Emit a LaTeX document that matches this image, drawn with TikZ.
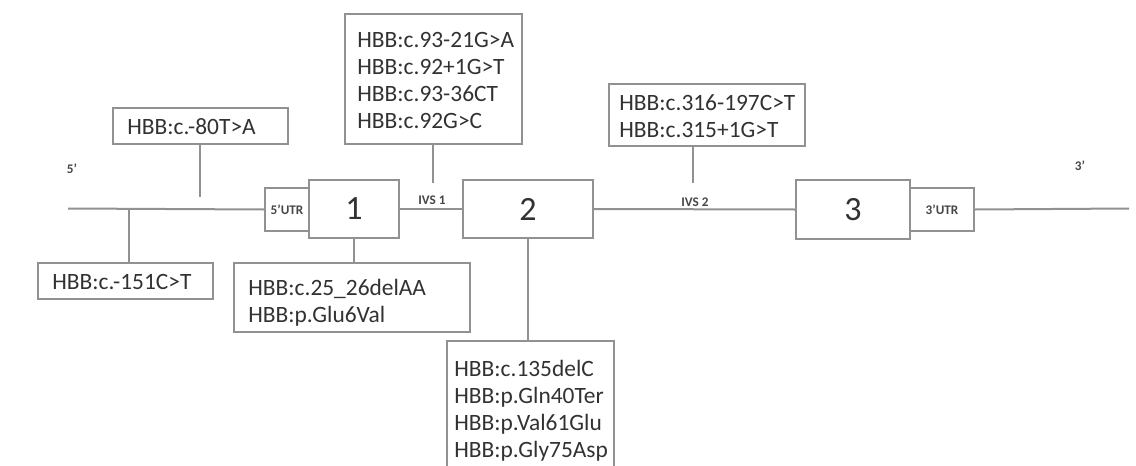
\documentclass[tikz,border=0pt]{standalone}
\usepackage{fontspec}
\setmainfont{Carlito}
\definecolor{linegray}{RGB}{145,145,145}
\definecolor{textgray}{RGB}{50,50,50}
\definecolor{labgray}{RGB}{70,70,70}
\begin{document}
\begin{tikzpicture}[x=0.5pt,y=-0.5pt,
  conn/.style={draw=linegray, line width=1pt},
  mbox/.style={draw=linegray, line width=1pt, inner sep=0pt, anchor=north west},
  mtext/.style={anchor=west, align=left, inner sep=0pt, text=textgray,
    font=\fontsize{11.7}{13.5}\selectfont},
  exnum/.style={inner sep=0pt, text=textgray, font=\fontsize{17}{17}\selectfont},
  smalllab/.style={inner sep=0pt, text=labgray, font=\fontsize{6.6}{7}\selectfont\bfseries},
]
\clip (0,0) rectangle (1136,466);
\fill[white] (0,0) rectangle (1136,466);

% gene structure
\node[mbox, minimum width=22pt, minimum height=21.5pt] (utr5) at (264,187) {};
\node[smalllab] (utr5t) at (utr5.center) {5’UTR};
\node[mbox, minimum width=45pt, minimum height=29pt] (ex1) at (308,179) {};
\node[exnum] (ex1t) at (ex1.center) {1};
\node[mbox, minimum width=65pt, minimum height=29pt] (ex2) at (462,179) {};
\node[exnum] (ex2t) at (ex2.center) {2};
\node[mbox, minimum width=57pt, minimum height=29.5pt] (ex3) at (795,179) {};
\node[exnum] (ex3t) at (ex3.center) {3};
\node[mbox, minimum width=32pt, minimum height=21.5pt] (utr3) at (909,187) {};
\node[smalllab] (utr3t) at (utr3.center) {3’UTR};

\coordinate (start) at (68,208.5);
\coordinate (stop) at (1129,208.5);
\draw[conn] (start) -- (utr5.west);
\draw[conn] (ex1.east) -- (ex2.west);
\draw[conn] (ex2.east) -- (ex3.west);
\draw[conn] (utr3.east) -- (stop);

\node[smalllab] (p5) at (72,169) {5’};
\node[smalllab] (p3) at (1080,166) {3’};
\node[smalllab] (ivs1) at (432,200) {IVS 1};
\node[smalllab] (ivs2) at (695,202) {IVS 2};

% mutation boxes
\node[mbox, minimum width=87.5pt, minimum height=18pt] (boxA) at (112,107) {};
\node[mtext] (txtA) at (127,127) {HBB:c.-80T>A};
\node[mbox, minimum width=87.5pt, minimum height=18pt] (boxB) at (37,262) {};
\node[mtext] (txtB) at (52,282) {HBB:c.-151C>T};
\node[mbox, minimum width=88.5pt, minimum height=65pt] (boxC) at (344,13) {};
\node[mtext] (txtC) at (357,80.5) {HBB:c.93-21G>A\\HBB:c.92+1G>T\\HBB:c.93-36CT\\HBB:c.92G>C};
\node[mbox, minimum width=98pt, minimum height=31pt] (boxD) at (608,83) {};
\node[mtext] (txtD) at (619,116.5) {HBB:c.316-197C>T\\HBB:c.315+1G>T};
\node[mbox, minimum width=118pt, minimum height=34.5pt] (boxE) at (233,262) {};
\node[mtext] (txtE) at (248,302.5) {HBB:c.25\_26delAA\\HBB:p.Glu6Val};
\node[mbox, minimum width=83.5pt, minimum height=75pt] (boxF) at (446,340) {};
\node[mtext] (txtF) at (454,410.5) {HBB:c.135delC\\HBB:p.Gln40Ter\\HBB:p.Val61Glu\\HBB:p.Gly75Asp};

% connectors to mutation boxes
\coordinate (tipA) at (199.5,197);
\draw[conn] (boxA.south -| tipA) -- (tipA);
\coordinate (jB) at (129,208.5);
\draw[conn] (jB) -- (jB |- boxB.north);
\coordinate (tipC) at (433,183);
\draw[conn] (boxC.south -| tipC) -- (tipC);
\coordinate (tipD) at (693,183);
\draw[conn] (boxD.south -| tipD) -- (tipD);
\draw[conn] (ex1.south) -- (ex1.south |- boxE.north);
\draw[conn] (ex2.south) -- (ex2.south |- boxF.north);
\end{tikzpicture}
\end{document}
